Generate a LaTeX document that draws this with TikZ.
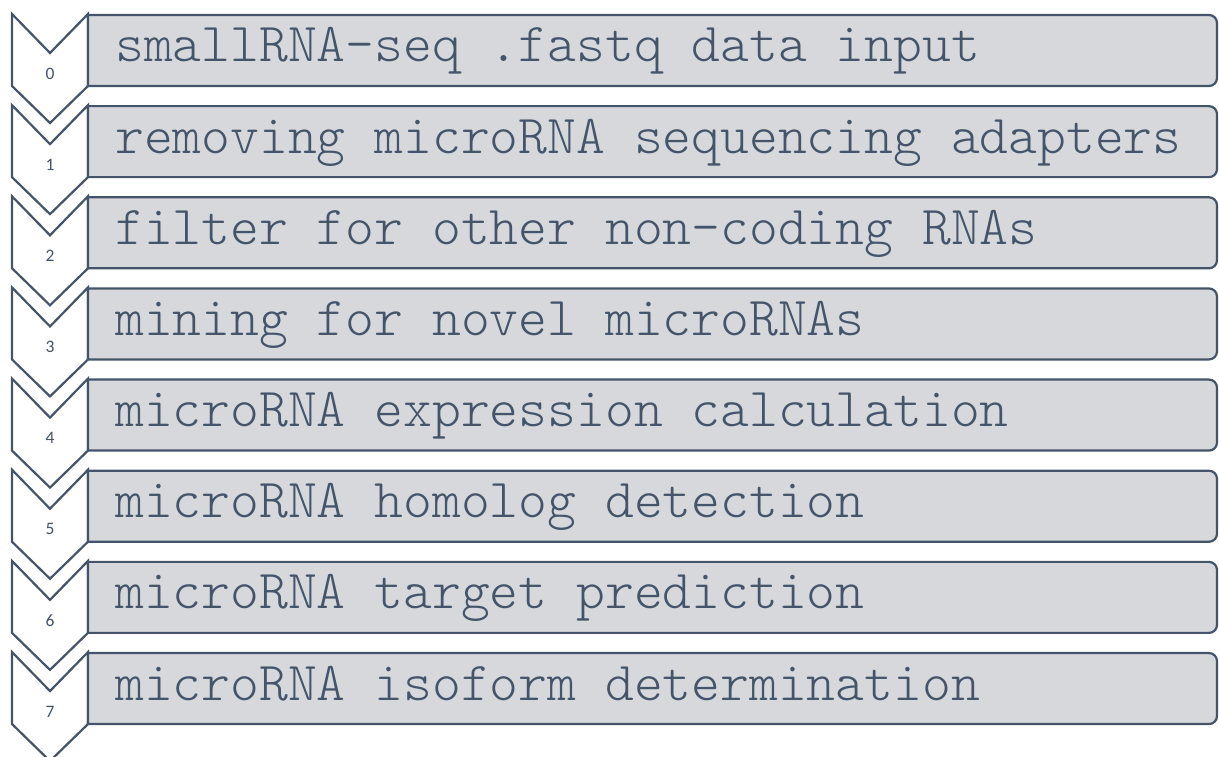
\documentclass[tikz,border=0pt]{standalone}
\usepackage{fontspec}
\newfontfamily\stepfont{Latin Modern Mono Light}
\newfontfamily\numfont{Carlito}
\definecolor{slate}{HTML}{44546A}
\definecolor{panel}{HTML}{D6D8DC}
\tikzset{
  chev/.style={draw=slate, fill=white, line width=2.2pt, line join=miter},
  panelbox/.style={draw=slate, fill=panel, line width=2.2pt},
  steptext/.style={anchor=base west, inner sep=0pt, text=slate,
    font=\stepfont\fontsize{54.9}{56}\selectfont},
  stepnum/.style={anchor=center, inner sep=0pt, text=slate,
    font=\numfont\fontsize{17.5}{19}\selectfont},
}
\begin{document}
\begin{tikzpicture}[x=1pt, y=1pt]
\useasboundingbox (0,0) rectangle (1219,757);
\clip (0,0) rectangle (1219,757);
\def\pitch{91.15}
\foreach \i/\label in {
  0/{smallRNA-seq .fastq data input},
  1/{removing microRNA sequencing adapters},
  2/{filter for other non-coding RNAs},
  3/{mining for novel microRNAs},
  4/{microRNA expression calculation},
  5/{microRNA homolog detection},
  6/{microRNA target prediction},
  7/{microRNA isoform determination}} {
  % y positions measured downward from the top edge
  \pgfmathsetmacro\ct{757-(14+\i*\pitch)}
  \pgfmathsetmacro\rt{757-(15+\i*\pitch)}
  \pgfmathsetmacro\rb{757-(86+\i*\pitch)}
  % chevron marker
  \draw[chev] (12,\ct) -- (50,\ct-39) -- (88,\ct) -- (88,\ct-72)
    -- (50,\ct-109) -- (12,\ct-72) -- cycle;
  % step panel, rounded on the right only
  \draw[panelbox] (88,\rb) -- (88,\rt) -- (1209,\rt)
    arc[start angle=90, end angle=0, radius=8] -- (1217,\rb+8)
    arc[start angle=0, end angle=-90, radius=8] -- cycle;
  \node[steptext] (s\i) at (115,\ct-48) {\label};
  \node[stepnum] (n\i) at (50,\ct-59.5) {\i};
}
\end{tikzpicture}
\end{document}
